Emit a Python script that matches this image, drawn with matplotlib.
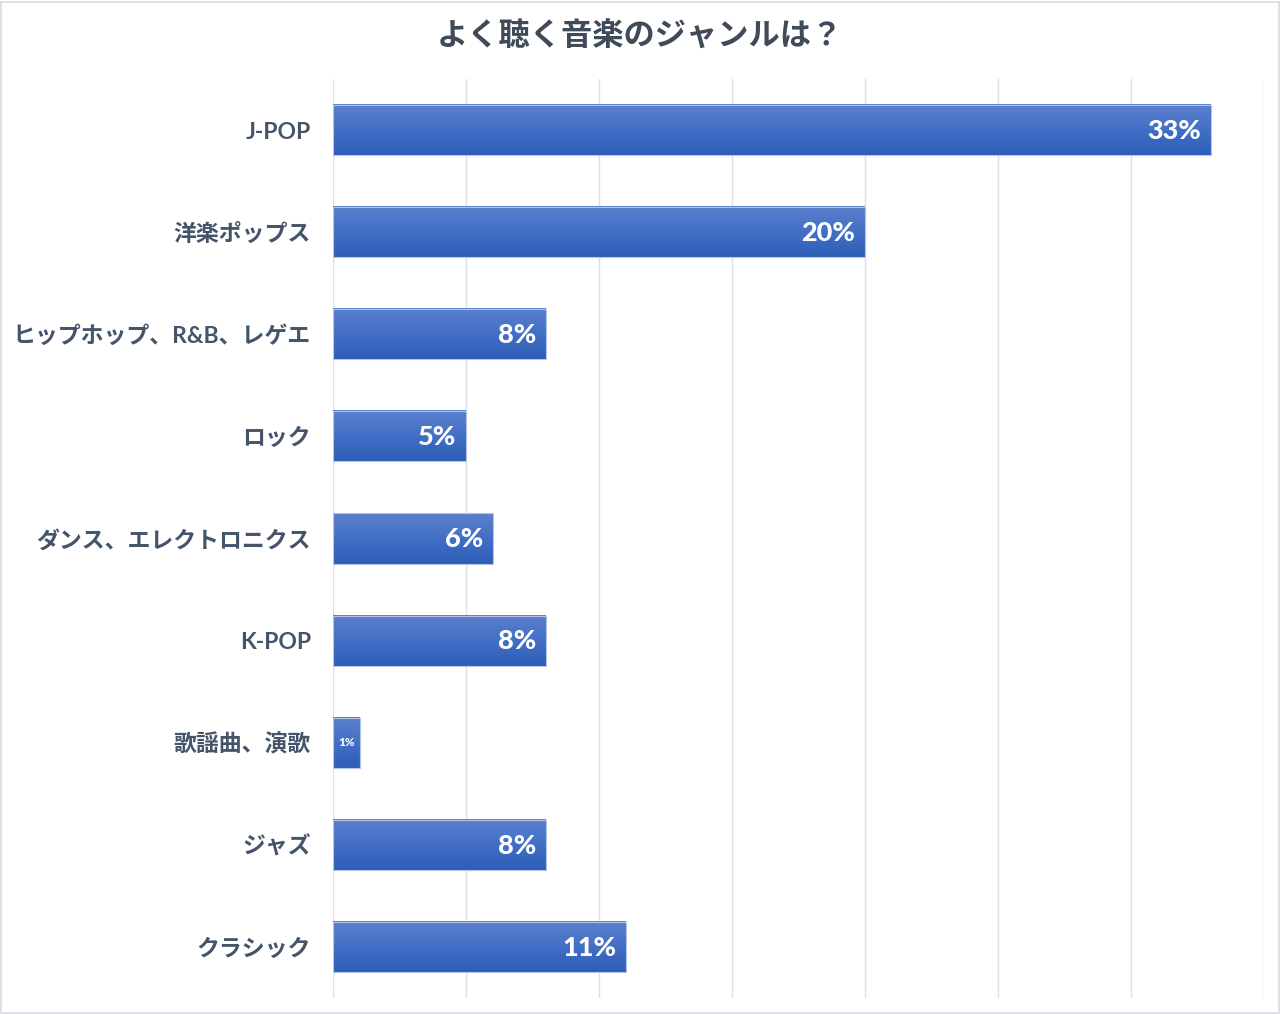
import matplotlib
matplotlib.use("Agg")
import matplotlib.pyplot as plt
import numpy as np
from matplotlib.patches import Rectangle
from matplotlib.colors import LinearSegmentedColormap

categories = ["J-POP", "洋楽ポップス", "ヒップホップ、R&B、レゲエ", "ロック",
              "ダンス、エレクトロニクス", "K-POP", "歌謡曲、演歌", "ジャズ", "クラシック"]
values = [33, 20, 8, 5, 6, 8, 1, 8, 11]
value_labels = ["33%", "20%", "8%", "5%", "6%", "8%", "1%", "8%", "11%"]
title = "よく聴く音楽のジャンルは？"

plt.rcParams['font.family'] = ['Noto Sans CJK JP', 'DejaVu Sans']
mixed = ['Lato', 'Noto Sans CJK JP', 'DejaVu Sans']

fig = plt.figure(figsize=(12.8, 10.14), dpi=100)
W, H = 1280, 1014
ax = fig.add_axes([333 / W, 1 - 998 / H, (1264 - 333) / W, (998 - 79) / H])

y = np.arange(len(categories))
bars = ax.barh(y, values, height=0.49, color="none", edgecolor="#B4C4E4", linewidth=0.8, zorder=3)

cmap = LinearSegmentedColormap.from_list("g", ["#5B80CC", "#426FC6", "#2E5EB8"])
grad = np.linspace(0, 1, 64).reshape(-1, 1)
for b in bars:
    x0, y0, w, h = b.get_x(), b.get_y(), b.get_width(), b.get_height()
    ax.imshow(grad, cmap=cmap, aspect="auto", extent=(x0, x0 + w, y0 + h, y0),
              zorder=2, interpolation="bilinear")

ax.set_xlim(0, 35)
ax.set_ylim(len(categories) - 0.5, -0.5)
ax.set_xticks(np.arange(0, 36, 5))
ax.set_xticklabels([])
ax.tick_params(axis="both", length=0)
ax.set_yticks(y)
ax.set_yticklabels(categories, fontsize=16.5, fontweight="bold", color="#44546A",
                   family=mixed)
ax.tick_params(axis="y", pad=16)
ax.grid(axis="x", color="#DDE0E6", linewidth=1.0, zorder=0)
ax.set_axisbelow(True)
for s in ax.spines.values():
    s.set_visible(False)

for b, v, lab in zip(bars, values, value_labels):
    cy = b.get_y() + b.get_height() / 2
    if v < 2:
        ax.text(b.get_x() + b.get_width() / 2, cy, lab, ha="center", va="center",
                color="white", fontsize=8.5, fontweight="black", zorder=4, family=mixed)
    else:
        ax.annotate(lab, (b.get_width(), cy), xytext=(-7, -0.5), textcoords="offset points",
                    ha="right", va="center", color="white", fontsize=19.5,
                    fontweight="black", zorder=4, family=mixed)

fig.text(0.5, 1 - 37 / H, title, ha="center", va="center", fontsize=22.5,
         fontweight="bold", color="#404B5A")

fig.patches.append(Rectangle((0.001, 0.001), 0.998, 0.997, transform=fig.transFigure,
                             fill=False, edgecolor="#D9DCE2", linewidth=1.2))

fig.savefig("out.png", dpi=100, facecolor="white")
